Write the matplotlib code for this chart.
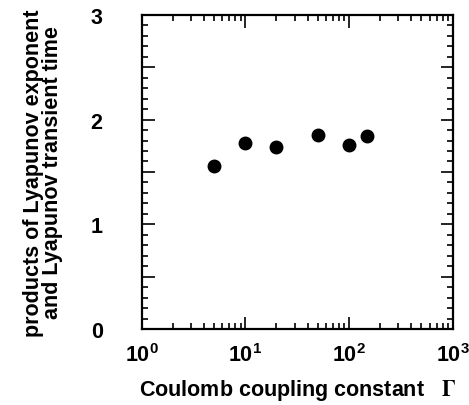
import numpy as np
import matplotlib.pyplot as plt
from matplotlib.ticker import MultipleLocator, LogLocator, NullFormatter

# data
gamma = [5, 10, 20, 50, 100, 150]
products = [1.56, 1.78, 1.74, 1.85, 1.76, 1.84]

plt.rcParams['font.family'] = ['Liberation Sans', 'DejaVu Sans']
plt.rcParams['font.weight'] = 'bold'
plt.rcParams['mathtext.fontset'] = 'stix'

fig = plt.figure(figsize=(4.69, 4.06), dpi=100)
ax = fig.add_axes([0.302, 0.187, 0.663, 0.774])

ax.plot(gamma, products, 'o', color='black', markersize=9)

ax.set_xscale('log')
ax.set_xlim(1, 1000)
ax.set_ylim(0, 3)

ax.set_yticks([0, 0.5, 1, 1.5, 2, 2.5, 3])
ax.set_yticklabels(['0', '', '1', '', '2', '', '3'])
ax.yaxis.set_minor_locator(MultipleLocator(0.1))
ax.xaxis.set_major_locator(LogLocator(base=10, numticks=10))
ax.xaxis.set_minor_locator(LogLocator(base=10, subs=np.arange(2, 10), numticks=20))
ax.xaxis.set_minor_formatter(NullFormatter())

for s in ax.spines.values():
    s.set_linewidth(1.6)
ax.tick_params(which='both', direction='in', top=True, right=True, width=1.2)
ax.tick_params(which='major', length=9, labelsize=15.5)
ax.tick_params(axis='x', which='major', pad=10)
ax.tick_params(axis='y', which='major', pad=28)
ax.tick_params(which='minor', length=4.5)
for lbl in ax.get_xticklabels() + ax.get_yticklabels():
    lbl.set_fontweight('bold')

ax.set_xlabel('Coulomb coupling constant   $\\Gamma$', fontsize=15.5,
              fontweight='bold', labelpad=8)
ax.set_ylabel('products of Lyapunov exponent\nand Lyapunov transient time',
              fontsize=15.5, fontweight='bold', labelpad=20, linespacing=0.9)

fig.savefig('out.png', dpi=100)
